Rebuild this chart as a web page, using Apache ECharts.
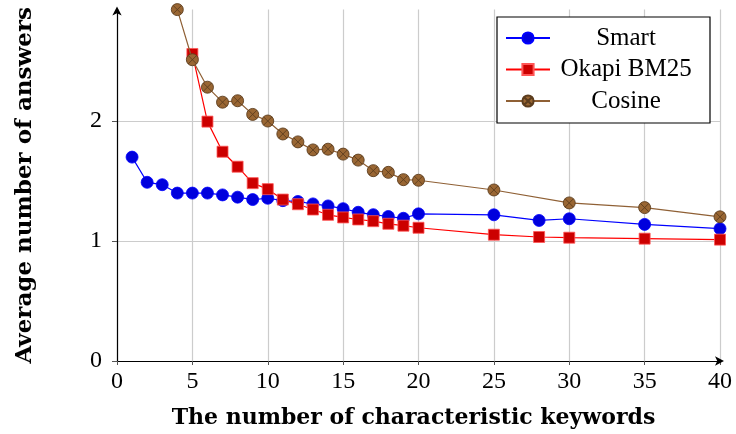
<!DOCTYPE html>
<html>
<head>
<meta charset="utf-8">
<script src="https://cdn.jsdelivr.net/npm/echarts@6/dist/echarts.min.js"></script>
<style>html,body{margin:0;padding:0;background:#fff}#c{width:736px;height:434px}</style>
</head>
<body>
<div id="c"></div>
<script>
var smartX = [1,2,3,4,5,6,7,8,9,10,11,12,13,14,15,16,17,18,19,20,25,28,30,35,40];
var smartY = [1.70,1.49,1.47,1.40,1.40,1.40,1.385,1.366,1.346,1.357,1.337,1.33,1.31,1.293,1.27,1.24,1.22,1.205,1.19,1.227,1.219,1.172,1.186,1.139,1.103];
var okapiX = [5,6,7,8,9,10,11,12,13,14,15,16,17,18,19,20,25,28,30,35,40];
var okapiY = [2.56,1.996,1.745,1.62,1.483,1.433,1.346,1.307,1.263,1.219,1.197,1.18,1.166,1.144,1.128,1.111,1.053,1.034,1.028,1.02,1.012];
var cosineX = [4,5,6,7,8,9,10,11,12,13,14,15,16,17,18,19,20,25,30,35,40];
var cosineY = [2.93,2.512,2.283,2.158,2.17,2.056,2.001,1.893,1.827,1.76,1.766,1.725,1.675,1.587,1.573,1.512,1.507,1.426,1.318,1.279,1.202];
var seriesNames = ['Smart','Okapi BM25','Cosine'];
var xTicks = [0,5,10,15,20,25,30,35,40];
var yTicks = [0,1,2];

function pairs(xs, ys){ return xs.map(function(x,i){ return [x, ys[i]]; }); }

var FONT = 'Liberation Serif';
var TFONT = 'DejaVu Serif';
var otimes = 'path://M0,-10 A10,10 0 1,1 0,10 A10,10 0 1,1 0,-10 Z M-7.07,-7.07 L7.07,7.07 M7.07,-7.07 L-7.07,7.07';

var chart = echarts.init(document.getElementById('c'), null, {renderer:'canvas'});
chart.setOption({
  animation: false,
  backgroundColor: '#fff',
  grid: {left: 117, right: 16, top: 9.6, bottom: 71, containLabel: false},
  xAxis: {
    type: 'value', min: xTicks[0], max: xTicks[xTicks.length-1], interval: 5,
    name: 'The number of characteristic keywords', nameLocation: 'middle', nameGap: 46,
    nameTextStyle: {fontFamily: TFONT, fontWeight: 'bold', fontSize: 22, color: '#000', padding: [0, 10, 0, 0]},
    axisLine: {lineStyle: {color: '#000', width: 1.2}, symbol: ['none','arrow'], symbolSize: [7, 9], symbolOffset: [0, 4]},
    axisTick: {show: true, length: 4, lineStyle: {color: '#555'}},
    axisLabel: {fontFamily: FONT, fontSize: 24, color: '#000', margin: 9},
    splitLine: {show: true, lineStyle: {color: '#cccccc', width: 1.2}}
  },
  yAxis: {
    type: 'value', min: yTicks[0], max: 2.93, interval: 1,
    name: 'Average number of answers', nameLocation: 'middle', nameGap: 80, nameRotate: 90,
    nameTextStyle: {fontFamily: TFONT, fontWeight: 'bold', fontSize: 23, color: '#000'},
    axisLine: {lineStyle: {color: '#000', width: 1.2}, symbol: ['none','arrow'], symbolSize: [7, 9], symbolOffset: [0, 3]},
    axisTick: {show: true, length: 5, lineStyle: {color: '#555'}},
    axisLabel: {fontFamily: FONT, fontSize: 24, color: '#000', margin: 15, showMaxLabel: false,
      formatter: function(v){ return yTicks.indexOf(v) >= 0 ? String(v) : ''; }},
    splitLine: {show: true, lineStyle: {color: ['#cccccc','#cccccc','#cccccc','rgba(0,0,0,0)'], width: 1.2}}
  },
  legend: {
    orient: 'vertical', left: 497, top: 17,
    padding: [8, 13, 9, 8], itemGap: 5.5, itemWidth: 44, itemHeight: 14,
    borderColor: '#000', borderWidth: 1.2, backgroundColor: '#fff',
    data: seriesNames,
    formatter: function(n){ return '{c|' + n + '}'; },
    textStyle: {fontFamily: FONT, fontSize: 25, color: '#000', lineHeight: 26,
      rich: {c: {width: 142, align: 'center', fontFamily: FONT, fontSize: 25, lineHeight: 26, color: '#000'}}}
  },
  series: [
    {name: seriesNames[0], type: 'line', data: pairs(smartX, smartY), symbol: 'circle', symbolSize: 12,
     lineStyle: {color: '#0000ff', width: 1.2}, itemStyle: {color: '#0000dd', borderColor: '#0000ff', borderWidth: 0.8}, z: 3},
    {name: seriesNames[1], type: 'line', data: pairs(okapiX, okapiY), symbol: 'rect', symbolSize: 11,
     lineStyle: {color: '#ff0000', width: 1.2}, itemStyle: {color: '#cc0000', borderColor: '#ff5555', borderWidth: 0.8}, z: 4},
    {name: seriesNames[2], type: 'line', data: pairs(cosineX, cosineY), symbol: otimes, symbolSize: 12,
     lineStyle: {color: '#8f6035', width: 1.2}, itemStyle: {color: '#996633', borderColor: '#5c3d1e', borderWidth: 0.9}, z: 5}
  ]
});
</script>
</body>
</html>
